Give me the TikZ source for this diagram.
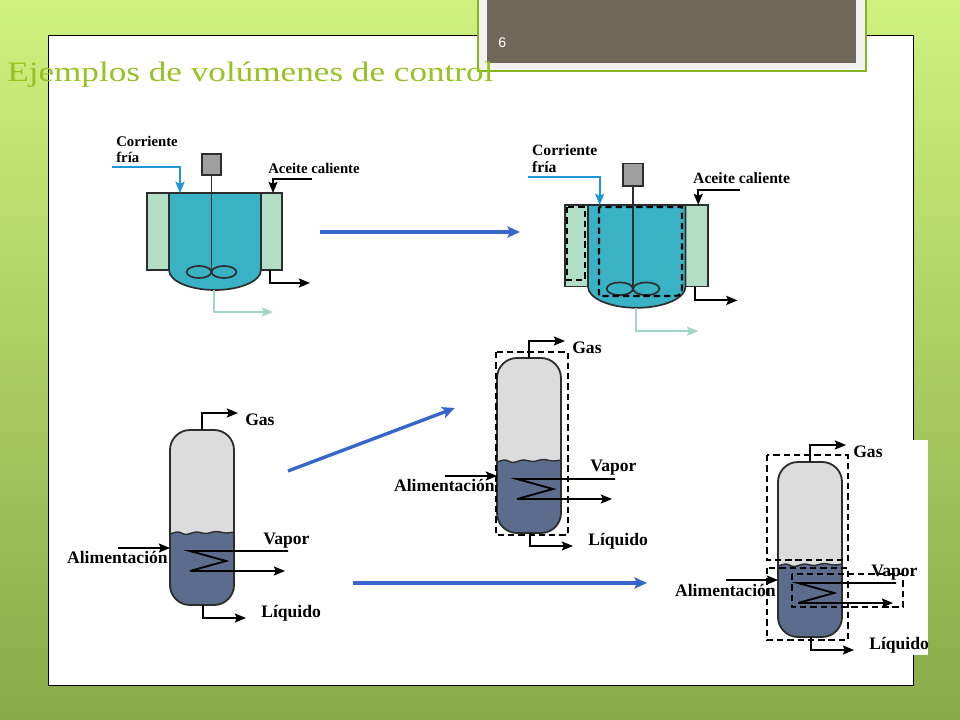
\documentclass[tikz,border=0pt]{standalone}
\usepackage{fontspec}
\setmainfont{Liberation Serif}
\newfontfamily\titulofont[FakeStretch=1.25]{Liberation Serif}
\newfontfamily\numfont{Liberation Sans}
\usetikzlibrary{arrows.meta}

\definecolor{fondoA}{RGB}{206,242,126}
\definecolor{fondoB}{RGB}{136,170,72}
\definecolor{verdetit}{RGB}{150,194,35}
\definecolor{verdemarco}{RGB}{135,180,30}
\definecolor{marron}{RGB}{112,104,89}
\definecolor{azulflecha}{RGB}{52,102,204}
\definecolor{azulfrio}{RGB}{30,150,215}
\definecolor{tanqueazul}{RGB}{58,178,198}
\definecolor{camisaverde}{RGB}{178,222,198}
\definecolor{salidaverde}{RGB}{160,215,195}
\definecolor{gasgris}{RGB}{220,220,220}
\definecolor{liqazul}{RGB}{92,108,140}
\definecolor{borde}{RGB}{45,45,45}

\tikzset{
  linea/.style={line width=1.3pt, draw=black},
  punta/.style={-{Stealth[length=8pt, width=6.5pt, inset=1.5pt]}},
  flecha/.style={linea, punta},
  etiqueta/.style={inner sep=0pt, font=\fontsize{12.5}{14}\selectfont\bfseries},
  etiquetar/.style={inner sep=0pt, font=\fontsize{10.5}{11.5}\selectfont\bfseries},
  caja/.style={line width=1.5pt, dash pattern=on 4.5pt off 2.8pt},
  azul/.style={line width=2.4pt, draw=azulflecha, -{Stealth[length=9pt, width=8pt, inset=2pt]}},
}

% reactor con camisa: #1,#2 esquina del tanque, #3 escala, #4 nombre
\newcommand{\reactor}[4]{%
\begin{scope}[shift={(#1,#2)}, scale=#3, transform shape]
	%camisas
	\draw[line width=1.2pt, draw=borde, fill=camisaverde] (-22,0) rectangle (0,77);
	\draw[line width=1.2pt, draw=borde, fill=camisaverde] (92,0) rectangle (113,77);
	%tanque
	\draw[line width=1.2pt, draw=borde, fill=tanqueazul] (0,0) -- (0,77)
		.. controls (0,88) and (20.6,97) .. (46,97)
		.. controls (71.4,97) and (92,88) .. (92,77) -- (92,0) -- cycle;
	%motor y agitador
	\draw[line width=1pt, draw=borde, fill=gray!75] (33,-39) rectangle (52,-18);
	\draw[line width=1pt, borde] (42.5,-18) -- (42.5,79);
	\draw[line width=1.2pt, borde] (30,79) ellipse [x radius=0.31cm, y radius=0.15cm];
	\draw[line width=1.2pt, borde] (55,79) ellipse [x radius=0.31cm, y radius=0.15cm];
	%corrientes
	\draw[line width=1.4pt, draw=azulfrio, punta] (-57,-26) -- (11,-26) -- (11,0);
	\node[etiquetar, anchor=north west, align=left] (corr#4) at (-53,-57) {Corriente\\fría};
	\draw[flecha] (143,-14) -- (104,-14) -- (104,0);
	\node[etiquetar, anchor=west] (aceite#4) at (99,-25) {Aceite caliente};
	\draw[flecha] (101,77) -- (101,90) -- (141,90);
	\draw[line width=1.4pt, draw=salidaverde, punta] (45,97) -- (45,119) -- (104,119);
\end{scope}}

% columna flash: #1,#2 esquina superior izquierda, #3 nombre
\newcommand{\columna}[3]{%
\begin{scope}[shift={(#1,#2)}]
	\fill[gasgris, rounded corners=0.5cm] (0,0) rectangle (64,175);
	\begin{scope}
		\clip[rounded corners=0.5cm] (0,0) rectangle (64,175);
		\fill[liqazul] (0,180) -- (0,104) -- plot[smooth] coordinates
			{(0,104) (8,102) (16,104.5) (26,102) (36,103.5) (46,101.5) (56,103) (64,102)}
			-- (64,180) -- cycle;
		\draw[line width=1pt, borde] plot[smooth] coordinates
			{(0,104) (8,102) (16,104.5) (26,102) (36,103.5) (46,101.5) (56,103) (64,102)};
	\end{scope}
	\draw[line width=1.3pt, borde, rounded corners=0.5cm] (0,0) rectangle (64,175);
	%gas
	\draw[flecha] (32,0) -- (32,-17) -- (68,-17);
	\node[etiqueta, anchor=base west] (gas#3) at (75,-4) {Gas};
	%serpentin
	\draw[linea] (118,121) -- (20,121) -- (56,131) -- (20,141);
	\draw[flecha] (20,141) -- (115,141);
	\node[etiqueta, anchor=base west] (vapor#3) at (93,114) {Vapor};
	%alimentacion
	\draw[flecha] (-52,118) -- (0,118);
	\node[etiqueta, anchor=base east] (alim#3) at (-2,134) {Alimentación};
	%liquido
	\draw[flecha] (33,175) -- (33,188) -- (76,188);
	\node[etiqueta, anchor=base west] (liq#3) at (91,187.5) {Líquido};
\end{scope}}

\begin{document}
\begin{tikzpicture}[x=0.025cm, y=-0.025cm]
	\useasboundingbox (0,0) rectangle (960,720);
	%fondo
	\shade[top color=fondoA, bottom color=fondoB] (0,0) rectangle (960,720);
	\draw[line width=0.6pt, fill=white] (48,35) rectangle (913,685);
	\fill[white] (660,440) rectangle (928,655);
	
	%recuadro del numero
	\draw[line width=1pt, draw=verdemarco, fill=gray!10] (478,-5) rectangle (866,71);
	\fill[marron] (487,-5) rectangle (856,63);
	\node[inner sep=0pt, anchor=base west, text=white, font=\numfont\fontsize{10}{12}\selectfont] (numero) at (498,48) {6};
	
	\node[inner sep=0pt, anchor=base west, text=verdetit, font=\titulofont\fontsize{20}{24}\selectfont] (titulo) at (7,82) {Ejemplos de volúmenes de control};
	
	%reactores
	\reactor{169}{193}{1}{A}
	\reactor{588}{205}{1.06}{B}
	\draw[caja] (567,207) rectangle (585,280);
	\draw[caja] (599,207) -- (599,296) -- (674,296) .. controls (680,296) and (682,294) .. (682,288) -- (682,207) -- cycle;
	
	%columnas
	\columna{170}{430}{A}
	\columna{497}{358}{B}
	\columna{778}{462}{C}
	\draw[caja] (496,352) rectangle (568,535);
	\draw[caja] (767,455) rectangle (848,560);
	\draw[caja] (767,568) rectangle (848,640);
	\draw[caja] (792,574) rectangle (903,607);
	
	%flechas entre ejemplos
	\coordinate (uno) at (320,232);
	\coordinate (dos) at (520,232);
	\coordinate (tres) at (288,471);
	\coordinate (cuatro) at (455,408);
	\coordinate (cinco) at (353,583);
	\coordinate (seis) at (647,583);
	\draw[azul] (uno) -- (dos);
	\draw[azul] (tres) -- (cuatro);
	\draw[azul] (cinco) -- (seis);
\end{tikzpicture}
\end{document}
